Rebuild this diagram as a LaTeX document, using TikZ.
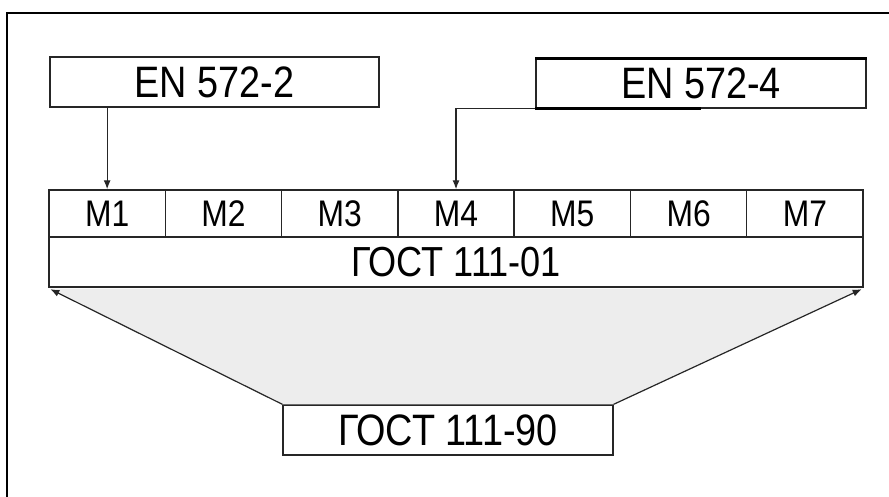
\documentclass[tikz,border=0pt]{standalone}
\usepackage{fontspec}
\setmainfont{Liberation Sans}[FakeStretch=0.86]
\usetikzlibrary{arrows.meta,calc}
\begin{document}
\begin{tikzpicture}[x=1pt,y=-1pt,
  box/.style={draw=black!85,line width=1.4pt,inner sep=0pt,fill=white},
  cell/.style={box,minimum width=116.29pt,minimum height=47pt,font=\fontsize{37}{37}\selectfont},
  conn/.style={line width=1.2pt,black!85,-{Latex[length=9pt,width=7pt]}}]
\useasboundingbox (0,0) rectangle (889,497);
% frame
\draw[line width=2pt] (7,497) -- (7,13) -- (889,13);
% lower boxes and gray trapezoid
\node[box,minimum width=814pt,minimum height=50pt,font=\fontsize{42}{42}\selectfont] (g01) at (456,262) {ГОСТ 111-01};
\node[box,minimum width=330pt,minimum height=50pt,font=\fontsize{44}{44}\selectfont] (g90) at (448,430) {ГОСТ 111-90};
\fill[black!7] ($(g01.south west)+(2,1)$) -- ($(g01.south east)+(-2,1)$) -- (g90.north east) -- (g90.north west) -- cycle;
\draw[conn] (g90.north west) -- ($(g01.south west)+(2,1.5)$);
\draw[conn] (g90.north east) -- ($(g01.south east)+(-2,1.5)$);
% top boxes
\node[box,minimum width=329pt,minimum height=50pt,font=\fontsize{44}{44}\selectfont] (en2) at (214.5,82) {EN 572-2};
\node[box,minimum width=330pt,minimum height=49pt,font=\fontsize{44}{44}\selectfont] (en4) at (701,83.5) {EN 572-4};
\draw[line width=3pt] (en4.north west) -- (en4.north east);
\draw[line width=2.6pt] (en4.south west) -- (en4.south);
% M row
\foreach \i in {1,...,7}{
  \node[cell] (m\i) at ({49+116.29*(\i-0.5)},213.5) {M\i};
}
% connectors
\draw[conn] (en2.south -| m1.north) -- (m1.north);
\draw[conn] (en4.south west) -| (m4.north);
\end{tikzpicture}
\end{document}
